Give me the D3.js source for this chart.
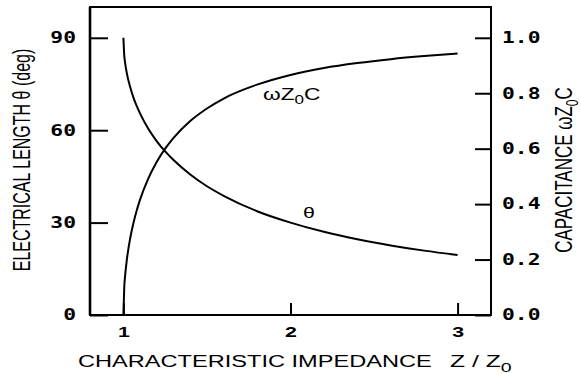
<!DOCTYPE html>
<html>
<head>
<meta charset="utf-8">
<script src="https://cdn.jsdelivr.net/npm/d3@7"></script>
<style>
  body { margin: 0; background: #fff; }
  svg { display: block; }
</style>
</head>
<body>
<svg id="chart" width="581" height="374"></svg>
<script>
// Normalised characteristic impedance Z/Z0
const impedance = [1.0, 1.005, 1.01, 1.02, 1.04, 1.06, 1.08, 1.1, 1.15, 1.2, 1.25, 1.3,
                   1.4, 1.5, 1.6, 1.8, 2.0, 2.2, 2.4, 2.6, 2.8, 3.0];
// Electrical length theta, degrees (left axis)
const electricalLength = [90.0, 84.3, 81.9, 78.6, 74.1, 70.6, 67.8, 65.4, 60.4, 56.4, 53.1, 50.3,
                          45.6, 41.8, 38.7, 33.7, 30.0, 27.0, 24.6, 22.6, 20.9, 19.5];
// Normalised capacitance wZ0C (right axis)
const capacitance = [0.0, 0.100, 0.140, 0.197, 0.275, 0.332, 0.378, 0.417, 0.494, 0.553, 0.600, 0.639,
                     0.700, 0.745, 0.781, 0.831, 0.866, 0.891, 0.909, 0.923, 0.934, 0.943];

const xTicks = [1, 2, 3];
const thetaTicks = [0, 30, 60, 90];
const capTicks = [0.0, 0.2, 0.4, 0.6, 0.8, 1.0];

const svg = d3.select("#chart");
const box = { left: 90, right: 491, top: 7, bottom: 315 };
const STRETCH = 1.42;   // wide lettering used throughout the figure

const x = d3.scaleLinear().domain([0.8, 3.2]).range([box.left, box.right]);
const yTheta = d3.scaleLinear().domain([0, 100]).range([box.bottom, box.top]);
const yCap = d3.scaleLinear().domain([0, 100 / 90]).range([box.bottom, box.top]);

// widen axis labels horizontally
function widen(sel, k) {
  sel.each(function () {
    const w = this.getComputedTextLength();
    d3.select(this).attr("textLength", w * k).attr("lengthAdjust", "spacingAndGlyphs");
  });
}

const monoFont = "'DejaVu Sans Mono', 'Liberation Mono', monospace";
const sansFont = "'Liberation Sans', Arial, Helvetica, sans-serif";

// left axis: electrical length
const gL = svg.append("g").attr("transform", `translate(${box.left},0)`)
  .call(d3.axisLeft(yTheta).tickValues(thetaTicks).tickSize(-18).tickPadding(14).tickFormat(d3.format("d")));
// right axis: capacitance
const gR = svg.append("g").attr("transform", `translate(${box.right},0)`)
  .call(d3.axisRight(yCap).tickValues(capTicks).tickSize(-16).tickPadding(11).tickFormat(d3.format(".1f")));
// bottom axis: impedance
const gB = svg.append("g").attr("transform", `translate(0,${box.bottom})`)
  .call(d3.axisBottom(x).tickValues(xTicks).tickSize(-12).tickPadding(11).tickFormat(d3.format("d")));

[gL, gR, gB].forEach(g => {
  g.select(".domain").remove();
  g.selectAll(".tick line").attr("stroke", "#000").attr("stroke-width", 2);
});
[gL, gR].forEach(g => {
  g.selectAll(".tick text").attr("fill", "#000")
    .style("font-family", monoFont).style("font-size", "15px").style("font-weight", "bold");
  widen(g.selectAll(".tick text"), STRETCH);
});
gB.selectAll(".tick text").attr("fill", "#000")
  .style("font-family", sansFont).style("font-size", "15px").style("font-weight", "bold");
widen(gB.selectAll(".tick text"), STRETCH);

// plot frame
svg.append("rect")
  .attr("x", box.left).attr("y", box.top)
  .attr("width", box.right - box.left).attr("height", box.bottom - box.top)
  .attr("fill", "none").attr("stroke", "#000").attr("stroke-width", 2);
svg.append("line")
  .attr("x1", box.left).attr("x2", box.left).attr("y1", box.top).attr("y2", box.bottom)
  .attr("stroke", "#000").attr("stroke-width", 2.6);

// curves
const pts = impedance.map((z, i) => ({ z, th: electricalLength[i], c: capacitance[i] }));
const thetaLine = d3.line().x(d => x(d.z)).y(d => yTheta(d.th)).curve(d3.curveMonotoneX);
const capLine = d3.line().x(d => x(d.z)).y(d => yCap(d.c)).curve(d3.curveMonotoneX);

svg.append("path").datum(pts).attr("d", thetaLine)
  .attr("fill", "none").attr("stroke", "#000").attr("stroke-width", 2);
svg.append("path").datum(pts).attr("d", capLine)
  .attr("fill", "none").attr("stroke", "#000").attr("stroke-width", 2);

// text helper with horizontal widening
function label(tx, ty, sx, rot, size, anchor) {
  return svg.append("text")
    .attr("transform", `translate(${tx},${ty}) scale(${sx},1)` + (rot ? ` rotate(${rot})` : ""))
    .attr("text-anchor", anchor || "start")
    .style("font-family", sansFont).style("font-size", size + "px").attr("fill", "#000");
}

// curve labels
const cl = label(263, 100, STRETCH, 0, 16);
cl.append("tspan").text("ωZ");
cl.append("tspan").attr("dy", 4).style("font-size", "12px").text("0");
cl.append("tspan").attr("dy", -4).text("C");

label(303, 218, STRETCH, 0, 15).text("θ");

// x axis title
label(78, 367, 1.43, 0, 16.5).text("CHARACTERISTIC IMPEDANCE");
const xt = label(450, 367, 1.5, 0, 16.5);
xt.append("tspan").text("Z / Z");
xt.append("tspan").attr("dy", 5).style("font-size", "13px").text("0");

// left y title
label(30, 160, 1.55, -90, 16, "middle").text("ELECTRICAL LENGTH θ (deg)");

// right y title
const rt = label(572, 170, 1.42, -90, 17, "middle");
rt.append("tspan").text("CAPACITANCE ωZ");
rt.append("tspan").attr("dy", 4).style("font-size", "12px").text("0");
rt.append("tspan").attr("dy", -4).text("C");
</script>
</body>
</html>
